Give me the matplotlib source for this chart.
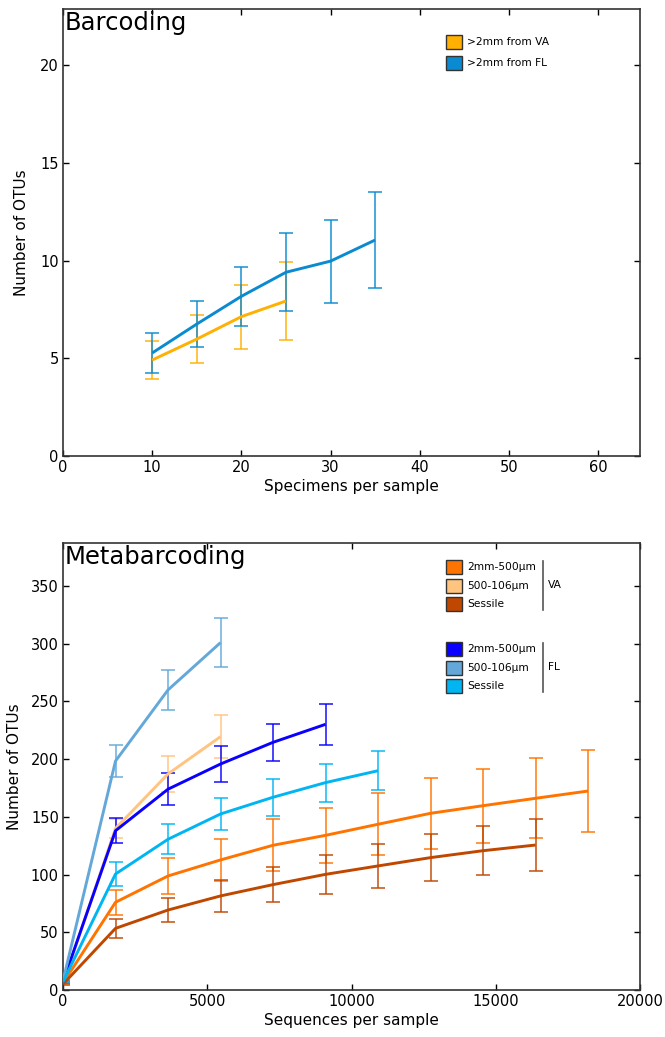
import matplotlib
matplotlib.use("Agg")
import matplotlib.pyplot as plt
from matplotlib.patches import Rectangle
from matplotlib.lines import Line2D
import numpy as np

# ---------------- Barcoding data ----------------
bar_x_va = [10, 15, 20, 25]
bar_y_va = [4.91, 5.98, 7.13, 7.93]
bar_e_va = [0.96, 1.23, 1.63, 2.0]
bar_x_fl = [10, 15, 20, 25, 30, 35]
bar_y_fl = [5.27, 6.75, 8.17, 9.40, 9.97, 11.05]
bar_e_fl = [1.04, 1.16, 1.50, 2.0, 2.13, 2.46]
bar_labels = [">2mm from VA", ">2mm from FL"]
bar_colors = ["#ffb000", "#0a8ad0"]

# ---------------- Metabarcoding data ----------------
seq_x = [0, 1820, 3640, 5460, 7280, 9100, 10920, 12740, 14560, 16380, 18200]
va_2mm = [6, 76, 98.8, 112.7, 125.4, 134.0, 143.6, 153.1, 159.7, 166.1, 172.4]
va_2mm_e = [1, 11, 16, 18.4, 22.5, 23.7, 27, 30.6, 32, 34.7, 35.8]
va_500 = [6, 140, 187.2, 219.5]
va_500_e = [1, 8, 15.8, 18.5]
va_ses = [5, 53.4, 69.3, 81.5, 91.3, 100.2, 107.5, 114.7, 120.7, 125.6]
va_ses_e = [1, 8.4, 10.8, 13.5, 15.2, 17.2, 18.8, 20.4, 21.3, 22.5]
fl_2mm = [7, 138, 174, 195.8, 214.6, 230.2]
fl_2mm_e = [1, 11, 14, 15.5, 16.2, 17.8]
fl_500 = [8, 198.4, 260, 301]
fl_500_e = [1, 13.6, 17.3, 21]
fl_ses = [7, 100.5, 130.6, 152.5, 167, 179.7, 190]
fl_ses_e = [1, 10, 13, 13.8, 16, 16.4, 17]
meta_labels = ["2mm-500µm", "500-106µm", "Sessile"]
va_colors = ["#ff7300", "#ffc47f", "#bf4700"]
fl_colors = ["#0a00ff", "#64a8da", "#00b5f2"]

W, H = 665, 1037
fig = plt.figure(figsize=(W / 100, H / 100), dpi=100)
plt.rcParams['font.family'] = ['DejaVu Sans']


def fx(px):
    return px / W


def fy(py):
    return 1 - py / H


ax1 = fig.add_axes([fx(63), fy(456), fx(640) - fx(63), fy(9) - fy(456)])
ax2 = fig.add_axes([fx(63), fy(990), fx(640) - fx(63), fy(543) - fy(990)])

for ax in (ax1, ax2):
    ax.tick_params(direction='in', top=True, right=True, length=4, width=1,
                   labelsize=10.5, pad=3)
    for s in ax.spines.values():
        s.set_color('#333333')
        s.set_linewidth(1.2)


def series(ax, x, y, e, color, lw=2.1):
    ax.errorbar(x, y, yerr=e, fmt='none', ecolor=color, alpha=0.8,
                elinewidth=1.3, capsize=5, capthick=1.3, zorder=2)
    ax.plot(x, y, color=color, lw=lw, zorder=3, solid_capstyle='butt')


# ---- Barcoding ----
series(ax1, bar_x_va, bar_y_va, bar_e_va, bar_colors[0])
series(ax1, bar_x_fl, bar_y_fl, bar_e_fl, bar_colors[1])
ax1.set_xlim(0, 64.7)
ax1.set_ylim(0, 22.87)
ax1.set_xticks([0, 10, 20, 30, 40, 50, 60])
ax1.set_yticks([0, 5, 10, 15, 20])
ax1.set_xlabel("Specimens per sample", fontsize=11, labelpad=3)
ax1.set_ylabel("Number of OTUs", fontsize=11, labelpad=8)
ax1.text(0.003, 0.995, "Barcoding", transform=ax1.transAxes, fontsize=17.5,
         va='top', ha='left')

# ---- Metabarcoding ----
va_y = [va_2mm, va_500, va_ses]
va_e = [va_2mm_e, va_500_e, va_ses_e]
fl_y = [fl_2mm, fl_500, fl_ses]
fl_e = [fl_2mm_e, fl_500_e, fl_ses_e]
for y, e, c in zip(va_y, va_e, va_colors):
    series(ax2, seq_x[:len(y)], y, e, c)
for y, e, c in zip(fl_y, fl_e, fl_colors):
    series(ax2, seq_x[:len(y)], y, e, c)
ax2.set_xlim(0, 20000)
ax2.set_ylim(0, 387.3)
ax2.set_xticks([0, 5000, 10000, 15000, 20000])
ax2.set_yticks([0, 50, 100, 150, 200, 250, 300, 350])
ax2.set_xlabel("Sequences per sample", fontsize=11, labelpad=3)
ax2.set_ylabel("Number of OTUs", fontsize=11, labelpad=6)
ax2.text(0.003, 0.995, "Metabarcoding", transform=ax2.transAxes, fontsize=17.5,
         va='top', ha='left')


# ---- Legends (manual, figure pixel placement) ----
def legend_entry(px, py, color, label):
    fig.patches.append(Rectangle((fx(px), fy(py + 7)), fx(16), 14 / H,
                                 transform=fig.transFigure, facecolor=color,
                                 edgecolor='#333333', lw=1.0))
    fig.text(fx(px + 21), fy(py), label, fontsize=7.7, va='center', ha='left')


for lab, c, py in zip(bar_labels, bar_colors, [42, 63]):
    legend_entry(446, py, c, lab)

for lab, c, py in zip(meta_labels, va_colors, [567, 586, 604]):
    legend_entry(446, py, c, lab)
for lab, c, py in zip(meta_labels, fl_colors, [649, 668, 686]):
    legend_entry(446, py, c, lab)

for y0, y1, name in [(561, 610, "VA"), (643, 692, "FL")]:
    fig.lines.append(Line2D([fx(543), fx(543)], [fy(y0), fy(y1)],
                            transform=fig.transFigure, color='#555555', lw=1.2))
    fig.text(fx(548), fy((y0 + y1) / 2), name, fontsize=7.7, va='center',
             ha='left')

fig.savefig("out.png", dpi=100)
